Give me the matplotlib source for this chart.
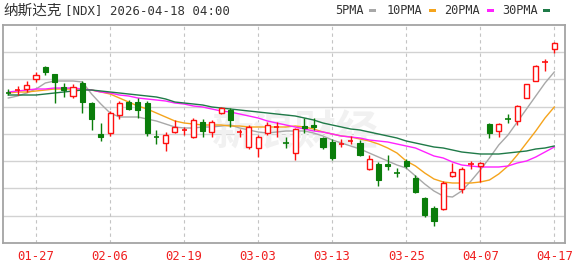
import numpy as np
import matplotlib
matplotlib.use('Agg')
import matplotlib.pyplot as plt
from matplotlib.patches import Rectangle

# ---------------- data (index points) ----------------
opens = [25620, 25640, 25665, 25815, 25995, 25890, 25695, 25560, 25755, 25455,
         24990, 25005, 25275, 25470, 25470, 25455, 24960, 24855, 25020, 25035,
         24945, 25170, 25020, 25305, 25350, 25005, 24795, 24780, 25005, 25080,
         24870, 24705, 25110, 25125, 24930, 24870, 24825, 24870, 24855, 24465,
         24540, 24540, 24420, 24585, 24330, 24030, 23880, 23865, 24360, 24165,
         24525, 24510, 25140, 25035, 25230, 25185, 25530, 25785, 26055, 26265]
highs = [25665, 25710, 25785, 25920, 26010, 25890, 25755, 25740, 25785, 25470,
         25155, 25335, 25485, 25500, 25530, 25485, 25050, 25020, 25200, 25095,
         25230, 25215, 25200, 25395, 25380, 25065, 25125, 24975, 25170, 25170,
         24945, 25080, 25230, 25230, 24945, 24915, 24915, 24960, 24900, 24675,
         24570, 24675, 24480, 24615, 24375, 24045, 23910, 24285, 24555, 24495,
         24585, 24570, 25155, 25155, 25290, 25425, 25745, 26025, 26115, 26370]
lows = [25575, 25575, 25620, 25770, 25875, 25455, 25545, 25530, 25305, 25050,
        24885, 24960, 25215, 25350, 25230, 24960, 24840, 24735, 25005, 24975,
        24930, 24945, 24945, 25290, 25095, 24945, 24765, 24645, 24975, 24945,
        24780, 24600, 25005, 25050, 24765, 24600, 24795, 24840, 24660, 24450,
        24210, 24450, 24345, 24480, 24105, 23745, 23610, 23850, 24345, 24105,
        24465, 24270, 24930, 24945, 25155, 25125, 25525, 25780, 25935, 26205]
closes = [25610, 25650, 25725, 25875, 25920, 25770, 25650, 25695, 25470, 25215,
          24945, 25305, 25455, 25365, 25350, 25005, 24945, 24975, 25095, 25050,
          25200, 25035, 25170, 25380, 25200, 25020, 25095, 24945, 25125, 25095,
          24855, 25065, 25080, 25095, 24795, 24630, 24840, 24885, 24675, 24615,
          24300, 24510, 24405, 24510, 24120, 23775, 23685, 24255, 24420, 24465,
          24540, 24555, 25005, 25140, 25215, 25410, 25740, 26010, 26070, 26355]

ma5 = [25530, 25560, 25605, 25665, 25755, 25785, 25785, 25785, 25770, 25590,
       25440, 25305, 25245, 25245, 25245, 25215, 25185, 25140, 25095, 25080,
       25080, 25095, 25095, 25110, 25125, 25080, 25050, 25020, 25005, 25020,
       25035, 25035, 25035, 25005, 24960, 24900, 24855, 24810, 24765, 24705,
       24645, 24585, 24525, 24480, 24360, 24240, 24135, 24060, 24045, 24135,
       24285, 24450, 24630, 24825, 24975, 25170, 25365, 25560, 25755, 25920]
ma10 = [25605, 25620, 25620, 25635, 25650, 25665, 25665, 25665, 25665, 25650,
        25620, 25590, 25530, 25470, 25410, 25365, 25305, 25245, 25185, 25155,
        25140, 25125, 25125, 25125, 25110, 25110, 25095, 25095, 25095, 25095,
        25095, 25110, 25095, 25065, 25020, 24990, 24960, 24945, 24915, 24885,
        24840, 24780, 24705, 24585, 24510, 24405, 24315, 24270, 24255, 24255,
        24255, 24270, 24300, 24390, 24510, 24675, 24855, 25035, 25230, 25395]
ma20 = [25620, 25635, 25650, 25665, 25665, 25680, 25680, 25680, 25665, 25650,
        25620, 25605, 25575, 25560, 25530, 25515, 25500, 25485, 25455, 25440,
        25410, 25395, 25365, 25335, 25320, 25290, 25260, 25230, 25185, 25155,
        25125, 25095, 25065, 25035, 25020, 24990, 24960, 24945, 24930, 24900,
        24885, 24870, 24840, 24810, 24780, 24720, 24660, 24630, 24570, 24525,
        24510, 24495, 24495, 24495, 24510, 24555, 24585, 24645, 24720, 24795]
ma30 = [25575, 25575, 25575, 25575, 25590, 25605, 25620, 25635, 25650, 25650,
        25635, 25620, 25605, 25590, 25575, 25560, 25545, 25515, 25470, 25455,
        25440, 25425, 25395, 25380, 25365, 25350, 25335, 25320, 25305, 25290,
        25275, 25260, 25230, 25200, 25155, 25125, 25095, 25065, 25050, 25020,
        24990, 24960, 24930, 24885, 24855, 24825, 24795, 24780, 24750, 24720,
        24705, 24690, 24690, 24690, 24705, 24720, 24735, 24765, 24780, 24810]

tick_idx = [3, 11, 19, 27, 35, 43, 51, 59]
tick_labels = ['01-27', '02-06', '02-19', '03-03', '03-13', '03-25', '04-07', '04-17']

title_cn = '纳斯达克'
title_rest = '[NDX] 2026-04-18 04:00'
legend_names = ['5PMA', '10PMA', '20PMA', '30PMA']

# ---------------- styling ----------------
RED = '#ff1010'
GREEN = '#0a7d0a'
MA_COLORS = ['#a8a8a8', '#f5a41c', '#ff22ff', '#1f7a48']

W, H = 577, 266
fig = plt.figure(figsize=(W / 100, H / 100), dpi=100)
fig.patch.set_facecolor('white')
ax = fig.add_axes([3 / W, (H - 243) / H, 562 / W, 218 / H])

YMIN, YMAX = 23355, 26625
ax.set_xlim(-0.573, 60.16)
ax.set_ylim(YMIN, YMAX)

# grid
for gy in np.linspace(YMIN, YMAX, 9)[1:-1]:
    ax.axhline(gy, color='#d2d2d2', lw=1.0, zorder=0.5)
for tx in tick_idx:
    ax.axvline(tx, color='#c4c4c4', lw=0.8, ls=(0, (3, 3)), zorder=0.5)

# watermark
ax.text(31, 25000, '新浪财经', fontsize=30, color='#f1f1f1', style='italic',
        fontweight='bold', family=['Noto Sans CJK SC'], ha='center', va='center',
        zorder=0.6)

# moving averages
idx = np.arange(len(closes))
for vals, c in zip([ma5, ma10, ma20, ma30], MA_COLORS):
    ax.plot(idx, vals, color=c, lw=1.0, zorder=2)

# candles
bw = 0.56
for i in range(len(closes)):
    o, h, l, c = opens[i], highs[i], lows[i], closes[i]
    up = c >= o
    col = RED if up else GREEN
    top, bot = max(o, c), min(o, c)
    if top - bot < 25:
        ax.plot([i, i], [l, h], color=col, lw=1.0, zorder=3, solid_capstyle='butt')
        ax.plot([i - bw / 2, i + bw / 2], [c, c], color=col, lw=1.2, zorder=3,
                solid_capstyle='butt')
        continue
    if up:
        ax.plot([i, i], [top, h], color=col, lw=1.0, zorder=3, solid_capstyle='butt')
        ax.plot([i, i], [l, bot], color=col, lw=1.0, zorder=3, solid_capstyle='butt')
        ax.add_patch(Rectangle((i - bw / 2, bot), bw, top - bot, facecolor='white',
                               edgecolor=col, lw=1.0, zorder=4))
    else:
        ax.plot([i, i], [l, h], color=col, lw=1.0, zorder=3, solid_capstyle='butt')
        ax.add_patch(Rectangle((i - bw / 2, bot), bw, top - bot, facecolor=col,
                               edgecolor=col, lw=0.8, zorder=4))

ax.set_xticks([])
ax.set_yticks([])
for s in ax.spines.values():
    s.set_color('#a4a4a4')
    s.set_linewidth(1.3)

# x labels
for tx, lab in zip(tick_idx, tick_labels):
    ax.annotate(lab, xy=(tx, 0), xycoords=('data', 'axes fraction'),
                xytext=(0, -14), textcoords='offset pixels', ha='center', va='center',
                color='#f02020', fontsize=8.8, family='DejaVu Sans Mono')

# title
fig.text(3 / W, 1 - 11 / H, title_cn, fontsize=10.5, color='#333333',
         family=['Noto Sans CJK SC'], ha='left', va='center')
fig.text(65 / W, 1 - 11 / H, title_rest, fontsize=8.9, color='#333333',
         family='DejaVu Sans Mono', ha='left', va='center')

# legend
text_x = [335, 387, 444, 502]
mark_x = [369, 429, 487, 543]
for name, tx, mx, c in zip(legend_names, text_x, mark_x, MA_COLORS):
    fig.text(tx / W, 1 - 10 / H, name, fontsize=8.6, color='#333333',
             family='DejaVu Sans Mono', ha='left', va='center')
    fig.patches.append(Rectangle((mx / W, 1 - 11.5 / H), 7 / W, 3 / H,
                                 transform=fig.transFigure, facecolor=c,
                                 edgecolor='none', figure=fig))

fig.savefig('out.png', dpi=100, facecolor='white')
